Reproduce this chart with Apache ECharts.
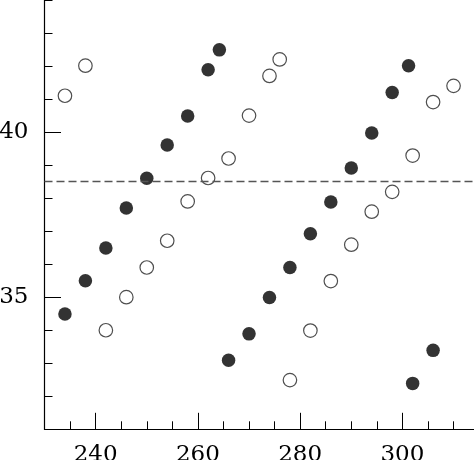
<!DOCTYPE html>
<html><head><meta charset="utf-8">
<script src="https://cdn.jsdelivr.net/npm/echarts@6/dist/echarts.min.js"></script>
<style>html,body{margin:0;padding:0;background:#fff;overflow:hidden}#c{width:474px;height:460px}</style>
</head><body><div id="c"></div>
<script>
const filledX = [234,238,242,246,250,254,258,262,264.2,266,270,274,278,282,286,290,294,298,301.2,302,306];
const filledY = [34.49,35.5,36.49,37.7,38.6,39.61,40.49,41.89,42.49,33.09,33.89,34.99,35.9,36.92,37.88,38.91,39.97,41.2,42.01,32.39,33.39];
const openX = [234,238,242,246,250,254,258,262,266,270,274,276,278,282,286,290,294,298,302,306,310];
const openY = [41.1,42.01,34.0,35.0,35.9,36.71,37.9,38.61,39.2,40.5,41.7,42.2,32.49,33.99,35.49,36.59,37.59,38.19,39.29,40.91,41.4];
const xMajorTicks = [240,260,280,300];
const xMinorTicks = [235,245,250,255,265,270,275,285,290,295,305,310];
const yMajorTicks = [35,40];
const yMinorTicks = [31,32,33,34,36,37,38,39,41,42,43,44];
const refLevel = 38.5;

const X_MIN = 230, X_MAX = 314, Y_MIN = 31, Y_MAX = 44;
const font = {fontFamily:'DejaVu Serif', fontSize:23, color:'#000'};
const axisLine = {show:true, onZero:false, lineStyle:{color:'#000', width:1.2}};

const chart = echarts.init(document.getElementById('c'), null, {renderer:'canvas'});
chart.setOption({
  animation:false,
  backgroundColor:'#fff',
  grid:{left:44.5, right:0, top:0, bottom:30.7, containLabel:false, outerBoundsMode:'none'},
  xAxis:[
    {type:'value', min:X_MIN, max:X_MAX, position:'bottom', axisLine:axisLine,
     axisTick:{show:true, inside:true, length:16.5, customValues:xMajorTicks, lineStyle:{color:'#000', width:1}},
     axisLabel:{show:true, margin:14, customValues:xMajorTicks, ...font},
     splitLine:{show:false}},
    {type:'value', min:X_MIN, max:X_MAX, position:'bottom', axisLine:{show:false},
     axisTick:{show:true, inside:true, length:8, customValues:xMinorTicks, lineStyle:{color:'#000', width:1}},
     axisLabel:{show:false}, splitLine:{show:false}}
  ],
  yAxis:[
    {type:'value', min:Y_MIN, max:Y_MAX, position:'left', axisLine:axisLine,
     axisTick:{show:true, inside:true, length:16.5, customValues:yMajorTicks, lineStyle:{color:'#000', width:1}},
     axisLabel:{show:true, margin:16, customValues:yMajorTicks, ...font},
     splitLine:{show:false}},
    {type:'value', min:Y_MIN, max:Y_MAX, position:'left', axisLine:{show:false},
     axisTick:{show:true, inside:true, length:8, customValues:yMinorTicks, lineStyle:{color:'#000', width:1}},
     axisLabel:{show:false}, splitLine:{show:false}}
  ],
  series:[
    {type:'scatter', xAxisIndex:0, yAxisIndex:0, symbol:'circle', symbolSize:13.5,
     data: openX.map((x,i)=>[x, openY[i]]),
     itemStyle:{color:'rgba(255,255,255,0)', borderColor:'#222', borderWidth:1.2},
     markLine:{silent:true, symbol:'none', label:{show:false},
       lineStyle:{color:'#555', width:1.3, type:[8,4]},
       data:[{yAxis:refLevel}]}},
    {type:'scatter', xAxisIndex:0, yAxisIndex:0, symbol:'circle', symbolSize:13.5,
     data: filledX.map((x,i)=>[x, filledY[i]]),
     itemStyle:{color:'#000'}, z:3}
  ]
});
</script></body></html>
